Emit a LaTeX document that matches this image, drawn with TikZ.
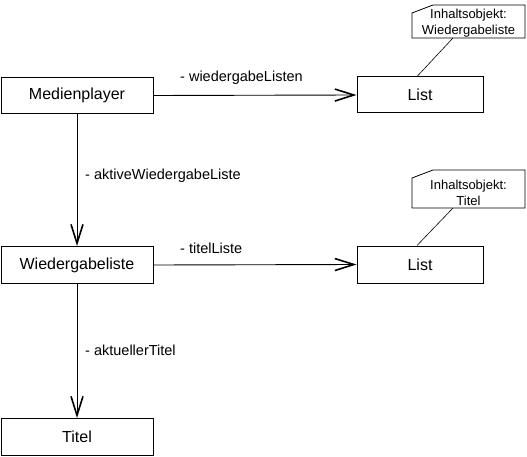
\documentclass[tikz,border=0pt]{standalone}
\usepackage{fontspec}
\setmainfont{Liberation Sans}
\usetikzlibrary{arrows.meta}
\begin{document}
\begin{tikzpicture}[x=1pt,y=-1pt,
  cls/.style={draw,line width=1pt,minimum width=152pt,minimum height=36pt,inner sep=0pt,font=\fontsize{16}{18}\selectfont},
  lbl/.style={anchor=west,inner sep=0pt,font=\fontsize{14.5}{16}\selectfont},
  notetxt/.style={align=center,inner sep=0pt,font=\fontsize{13}{15.5}\selectfont},
  assoc/.style={line width=0.9pt,-{Straight Barb[length=19pt,width=12pt,line width=1.6pt]}},
  notebox/.style={draw,line width=0.8pt},
  anchorline/.style={line width=0.6pt}]
\useasboundingbox (0,0) rectangle (527,457);
\node[cls] (mp) at (77,95.5) {Medienplayer};
\node[cls,minimum height=37pt] (wl) at (77,265) {Wiedergabeliste};
\node[cls,minimum height=37pt] (ti) at (77,437) {Titel};
\node[cls,minimum width=126pt] (l1) at (420,95) {List};
\node[cls,minimum width=126pt,minimum height=37pt] (l2) at (420,264.5) {List};
% notes
\draw[notebox] (412,13) -- (433,5) -- (525,5) -- (525,38) -- (412,38) -- cycle;
\node[notetxt] (n1) at (468.5,23) {Inhaltsobjekt:\\Wiedergabeliste};
\coordinate (n1b) at (453,38);
\draw[notebox] (412,178) -- (433,170) -- (525,170) -- (525,208) -- (412,208) -- cycle;
\node[notetxt] (n2) at (468.5,193) {Inhaltsobjekt:\\Titel};
\coordinate (n2b) at (453,208);
\draw[anchorline] (n1b) -- (l1.north west -| 417,0);
\draw[anchorline] (n2b) -- (l2.north west -| 417,0);
% associations
\draw[assoc] (mp.east) -- (l1.west);
\node[lbl] (a1) at (180,78) {- wiedergabeListen};
\draw[assoc] (wl.east) -- (l2.west);
\node[lbl] (a2) at (180,248) {- titelListe};
\draw[assoc] (mp.south) -- (wl.north);
\node[lbl] (a3) at (85,176) {- aktiveWiedergabeListe};
\draw[assoc] (wl.south) -- (ti.north);
\node[lbl] (a4) at (85,350) {- aktuellerTitel};
\end{tikzpicture}
\end{document}
